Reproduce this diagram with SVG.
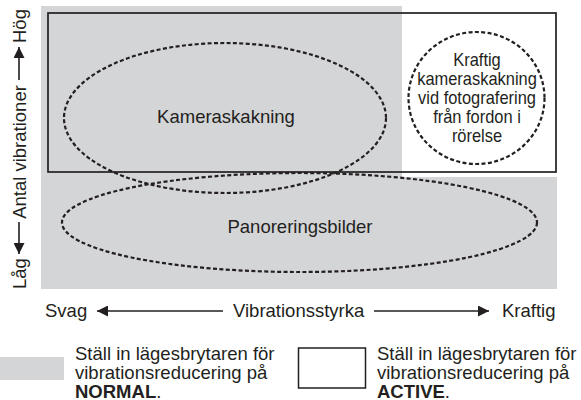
<svg xmlns="http://www.w3.org/2000/svg" width="581" height="400" viewBox="0 0 581 400">
<defs>
<style>
text{font-family:"Liberation Sans",Arial,sans-serif;fill:#231f20}
.t{font-size:18.5px}
.c{font-size:17.5px;text-anchor:middle}
.dash{fill:none;stroke:#231f20;stroke-width:2.2;stroke-dasharray:4 2.4}
.ax{stroke:#231f20;stroke-width:1.6;fill:none}
.b{font-weight:bold}
</style>
<marker id="ah" viewBox="0 0 10 10" refX="10" refY="5" markerWidth="11" markerHeight="11" markerUnits="userSpaceOnUse" orient="auto">
<path d="M0,0 L10,5 L0,10 Z" fill="#231f20"/>
</marker>
</defs>
<rect width="581" height="400" fill="#ffffff"/>
<g id="normal-zone">
<path d="M41,6 H402 V177 H557 V289 H41 Z" fill="#d4d5d7"/>
</g>
<g id="active-zone">
<rect x="48" y="13" width="508" height="159" fill="none" stroke="#231f20" stroke-width="1.7"/>
</g>
<g id="kameraskakning">
<ellipse class="dash" cx="225" cy="118" rx="161" ry="75"/>
<text class="t" x="226" y="123" text-anchor="middle">Kameraskakning</text>
</g>
<g id="panoreringsbilder">
<ellipse class="dash" cx="299.5" cy="222.5" rx="237.5" ry="49.5"/>
<text class="t" x="300" y="233" text-anchor="middle">Panoreringsbilder</text>
</g>
<g id="kraftig-kameraskakning">
<ellipse class="dash" cx="476.5" cy="98" rx="68" ry="66"/>
<g transform="translate(477,0) scale(0.94,1)">
<text class="c" x="0" y="66">Kraftig</text>
<text class="c" x="0" y="85">kameraskakning</text>
<text class="c" x="0" y="104">vid fotografering</text>
<text class="c" x="0" y="123">från fordon i</text>
<text class="c" x="0" y="142">rörelse</text>
</g>
</g>
<g id="y-axis-labels">
<text class="t" transform="translate(25.5,289) rotate(-90)">Låg</text>
<text class="t" transform="translate(25.5,152) rotate(-90)" text-anchor="middle">Antal vibrationer</text>
<text class="t" transform="translate(25.5,43) rotate(-90)">Hög</text>
</g>
<g id="x-axis-labels">
<text class="t" x="45" y="317">Svag</text>
<text class="t" x="233" y="317">Vibrationsstyrka</text>
<text class="t" x="502" y="317">Kraftig</text>
</g>
<g id="connectors">
<line class="ax" x1="19" y1="80" x2="19" y2="47" marker-end="url(#ah)"/>
<line class="ax" x1="19" y1="222" x2="19" y2="254" marker-end="url(#ah)"/>
<line class="ax" x1="223" y1="311" x2="97" y2="311" marker-end="url(#ah)"/>
<line class="ax" x1="374" y1="311" x2="489" y2="311" marker-end="url(#ah)"/>
</g>
<g id="legend-normal">
<rect x="0" y="357" width="64" height="23" fill="#d4d5d7"/>
<text class="t" x="75" y="359.5">Ställ in lägesbrytaren för</text>
<text class="t" x="75" y="378.5">vibrationsreducering på</text>
<text class="t" x="75" y="397.5"><tspan class="b">NORMAL</tspan>.</text>
</g>
<g id="legend-active">
<rect x="298.5" y="348" width="67" height="40" fill="#ffffff" stroke="#231f20" stroke-width="1.5"/>
<text class="t" x="377" y="359.5">Ställ in lägesbrytaren för</text>
<text class="t" x="377" y="378.5">vibrationsreducering på</text>
<text class="t" x="377" y="397.5"><tspan class="b">ACTIVE</tspan>.</text>
</g>
</svg>
